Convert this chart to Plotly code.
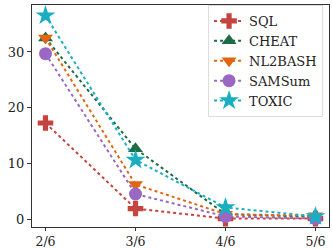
import plotly.graph_objects as go

x_labels = ["2/6", "3/6", "4/6", "5/6"]
sql = [17.3, 2.0, 0.2, 0.2]
cheat = [32.5, 12.7, 1.0, 0.5]
nl2bash = [32.5, 6.3, 1.0, 0.7]
samsum = [29.7, 4.6, 0.6, 0.2]
toxic = [36.5, 10.7, 2.2, 0.6]

series = [
    ("SQL", sql, "#c44440", "cross", 13),
    ("CHEAT", cheat, "#1f6b45", "triangle-up", 13),
    ("NL2BASH", nl2bash, "#e3650f", "triangle-down", 13),
    ("SAMSum", samsum, "#9a68c4", "circle", 13),
    ("TOXIC", toxic, "#1aafc0", "star", 15),
]

fig = go.Figure()
xs = list(range(len(x_labels)))
for name, vals, color, sym, sz in series:
    fig.add_trace(go.Scatter(
        x=xs, y=vals, name=name, mode="lines+markers",
        line=dict(color=color, width=2, dash="dot"),
        marker=dict(symbol=sym, size=sz, color=color),
    ))

fig.update_layout(
    width=332, height=249,
    margin=dict(l=32, r=3, t=5, b=22),
    paper_bgcolor="white", plot_bgcolor="white",
    font=dict(family="DejaVu Serif", size=13, color="#222"),
    showlegend=True,
    legend=dict(x=0.98, y=1.0, xanchor="right", yanchor="top",
                bgcolor="rgba(255,255,255,0.9)", bordercolor="#ddd", borderwidth=1,
                font=dict(size=13), itemwidth=30, tracegroupgap=0),
)
fig.update_xaxes(
    range=[-0.15, 3.15], tickmode="array", tickvals=xs, ticktext=x_labels,
    showline=True, linecolor="#333", linewidth=1, mirror=True,
    ticks="outside", ticklen=3, tickcolor="#333", showgrid=False, zeroline=False,
    automargin=False, tickfont=dict(size=12.5),
)
fig.update_yaxes(
    range=[-1.3, 38.4], tickvals=[0, 10, 20, 30],
    showline=True, linecolor="#333", linewidth=1, mirror=True,
    ticks="outside", ticklen=4, tickcolor="#333", showgrid=False, zeroline=False,
    automargin=False,
)
fig.write_html("out.html", config={"displayModeBar": False},
               post_script="document.body.style.margin='0';document.body.style.padding='0';")
